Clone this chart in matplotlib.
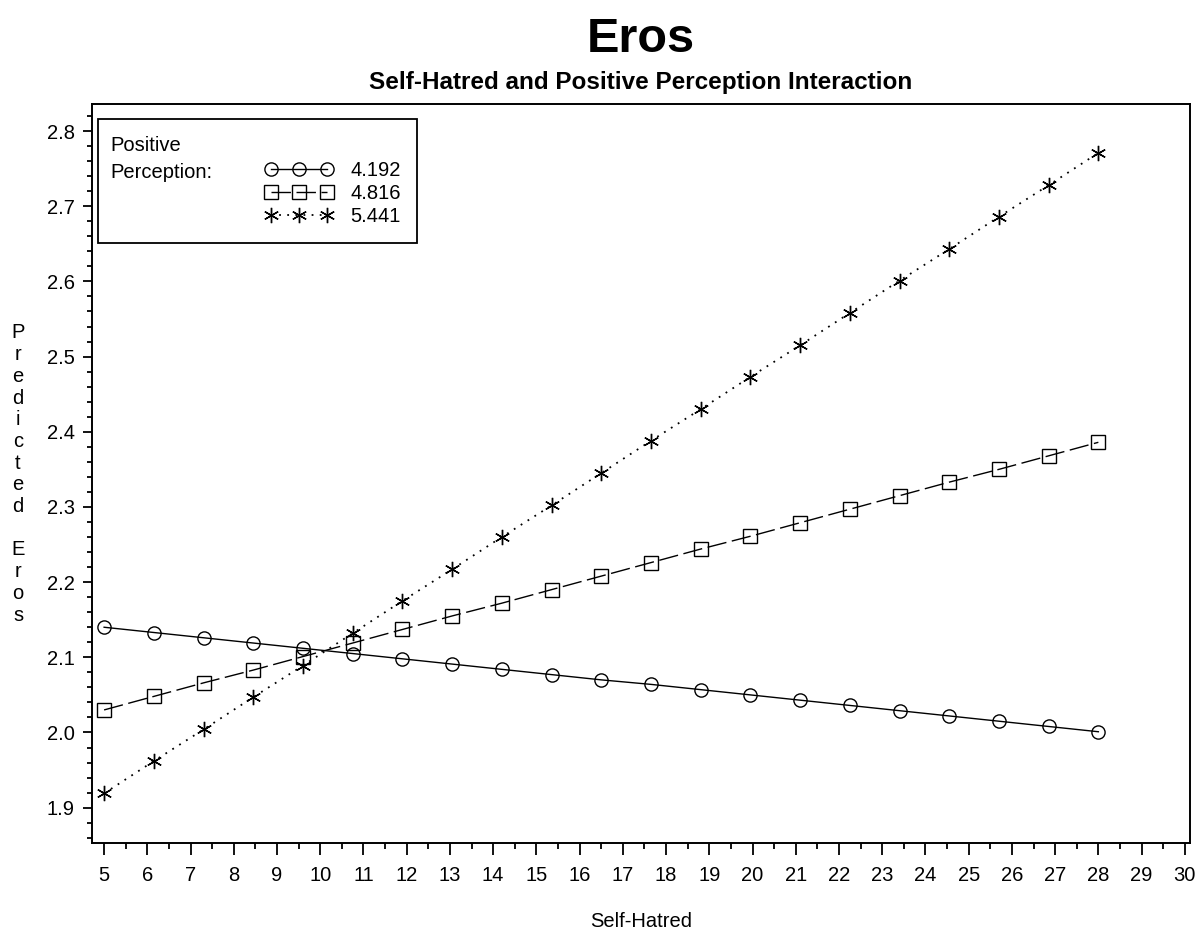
import matplotlib
matplotlib.use("Agg")
import matplotlib.pyplot as plt
from matplotlib.patches import Rectangle

plt.rcParams['font.family'] = ['Liberation Sans', 'DejaVu Sans']

self_hatred = [5, 6.15, 7.3, 8.45, 9.6, 10.75, 11.9, 13.05, 14.2, 15.35, 16.5,
               17.65, 18.8, 19.95, 21.1, 22.25, 23.4, 24.55, 25.7, 26.85, 28]
eros_4192 = [2.140, 2.133, 2.126, 2.119, 2.112, 2.105, 2.098, 2.091, 2.084, 2.077, 2.070,
             2.064, 2.057, 2.050, 2.043, 2.036, 2.029, 2.022, 2.015, 2.008, 2.001]
eros_4816 = [2.030, 2.048, 2.066, 2.083, 2.101, 2.119, 2.137, 2.155, 2.172, 2.190, 2.208,
             2.226, 2.244, 2.261, 2.279, 2.297, 2.315, 2.333, 2.350, 2.368, 2.386]
eros_5441 = [1.919, 1.962, 2.004, 2.047, 2.089, 2.132, 2.175, 2.217, 2.260, 2.302, 2.345,
             2.388, 2.430, 2.473, 2.515, 2.558, 2.601, 2.643, 2.686, 2.728, 2.771]
labels = ['4.192', '4.816', '5.441']
x_ticks = list(range(5, 31))
y_ticks = [1.9, 2.0, 2.1, 2.2, 2.3, 2.4, 2.5, 2.6, 2.7, 2.8]

W, H = 1197, 936
FS = 14.5
fig = plt.figure(figsize=(W / 100, H / 100), dpi=100)
ax = fig.add_axes([92 / W, 1 - 843 / H, (1190 - 92) / W, (843 - 104) / H])

star = (6, 2, 0)
common = dict(color='black', lw=1.0, markersize=9.5, markerfacecolor='none',
              markeredgecolor='black', markeredgewidth=1.0)
h1, = ax.plot(self_hatred, eros_4192, linestyle='-', marker='o', **common)
h2, = ax.plot(self_hatred, eros_4816, linestyle=(0, (14, 4)), marker='s', **common)
h3, = ax.plot(self_hatred, eros_5441, linestyle=(0, (1, 3.5)), marker=star,
              color='black', lw=1.3, markersize=11, markeredgewidth=1.0)

ax.set_xlim(4.72, 30.12)
ax.set_ylim(1.853, 2.836)
ax.set_xticks(x_ticks)
ax.set_xticklabels([str(v) for v in x_ticks])
ax.set_xticks([v + 0.5 for v in x_ticks[:-1]], minor=True)
ax.set_yticks(y_ticks)
ax.set_yticklabels([f'{v:.1f}' for v in y_ticks])
ax.set_yticks([1.9 + 0.02 * i for i in range(-2, 47) if i % 5 != 0], minor=True)
ax.tick_params(axis='x', which='major', direction='out', length=8.6, width=1.3,
               labelsize=FS, pad=8)
ax.tick_params(axis='x', which='minor', direction='out', length=4.3, width=1.3)
ax.tick_params(axis='y', which='major', direction='out', length=6.5, width=1.3,
               labelsize=FS, pad=6)
ax.tick_params(axis='y', which='minor', direction='out', length=3.6, width=1.3)
for s in ax.spines.values():
    s.set_linewidth(1.4)

# Legend
ax.add_patch(Rectangle((98 / W, 1 - 243 / H), (417 - 98) / W, (243 - 119) / H,
                       transform=fig.transFigure, fill=False, lw=1.3, color='black',
                       zorder=5))
fig.text(110 / W, 1 - 151 / H, 'Positive', fontsize=FS, va='baseline', ha='left')
fig.text(110 / W, 1 - 178 / H, 'Perception:', fontsize=FS, va='baseline', ha='left')
leg = ax.legend([h1, h2, h3], labels, loc='upper left',
                bbox_to_anchor=(265 / W, 1 - 161 / H), bbox_transform=fig.transFigure,
                frameon=False, numpoints=3, handlelength=3.38, fontsize=FS,
                labelspacing=0.2, handletextpad=0.85, borderaxespad=0, borderpad=0,
                markerscale=1.0)

cx = 0.5 * (92 + 1190) / W
fig.text(cx, 1 - 52 / H, 'Eros', fontsize=35, fontweight='bold',
         ha='center', va='baseline')
fig.text(cx, 1 - 89 / H, 'Self-Hatred and Positive Perception Interaction',
         fontsize=17.5, fontweight='bold', ha='center', va='baseline')
fig.text(cx, 1 - 927 / H, 'Self-Hatred', fontsize=FS,
         ha='center', va='baseline')
fig.text(18 / W, 1 - 474 / H, '\n'.join(list('Predicted')) + '\n\n' + '\n'.join(list('Eros')),
         fontsize=FS, ha='center', va='center', linespacing=1.18)

fig.savefig('out.png', dpi=100)
